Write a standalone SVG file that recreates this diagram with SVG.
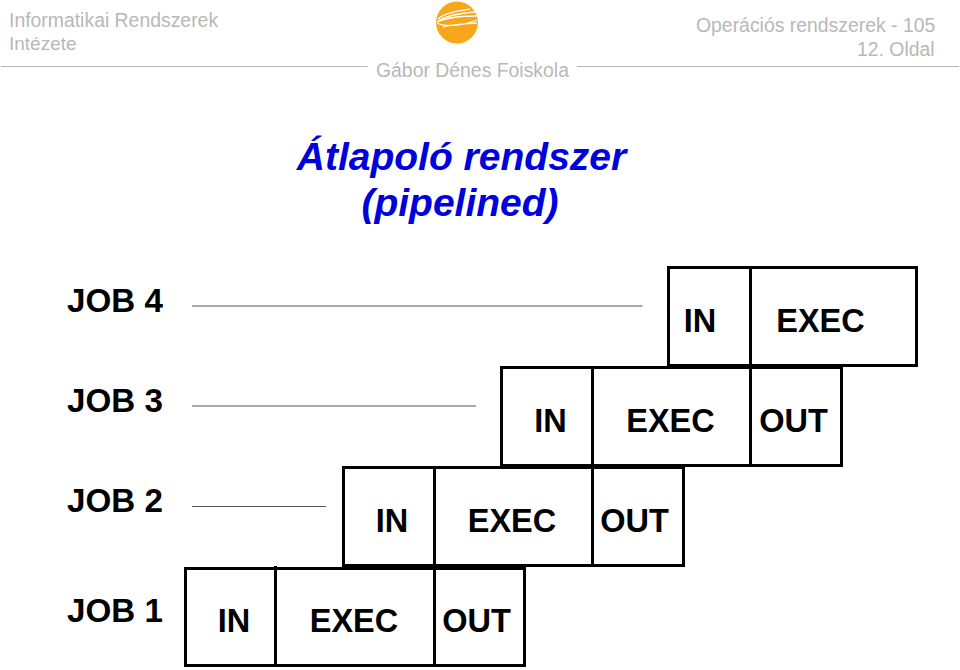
<svg xmlns="http://www.w3.org/2000/svg" width="960" height="670" viewBox="0 0 960 670">
<style>
text{font-family:"Liberation Sans",Arial,sans-serif}
.hd{font-size:19.4px;fill:#b8b8b8}
.rule{stroke:#b8b8b8;stroke-width:1.2;fill:none}
.title{font-size:39px;font-style:italic;font-weight:bold;fill:#0000dc;text-anchor:middle}
.job{font-size:33.200px;font-weight:bold;fill:#000}
.cell{font-size:32.500px;font-weight:bold;fill:#000;text-anchor:middle}
.box{fill:none;stroke:#000;stroke-width:3}
.lead{stroke:#555;stroke-width:1.2;fill:none}
.swoosh{fill:none;stroke:#fff;stroke-width:1.3}
</style>
<rect width="960" height="670" fill="#fff"/>
<g id="header">
<text class="hd" x="9" y="27">Informatikai Rendszerek</text>
<text class="hd" x="9" y="50" font-size="19" style="font-size:19px">Intézete</text>
<text class="hd" x="696" y="32">Operációs rendszerek - 105</text>
<text class="hd" x="857" y="56">12. Oldal</text>
<text class="hd" x="376" y="77">Gábor Dénes Foiskola</text>
<path class="rule" d="M1 66.500H367.500M577 66.500H959"/>
<g id="logo">
<circle cx="457" cy="22.500" r="21" fill="#f9a61a"/>
<path class="swoosh" d="M438 19C444 13 458 11 470 9M437 22C446 15 462 13 475 12M437 22C448 17 464 16 477 16M437 23C444 27 462 26 477 20M443 27C452 24 466 24 477 23"/>
</g>
</g>
<g id="title">
<text class="title" x="461.500" y="170">Átlapoló rendszer</text>
<text class="title" x="460" y="216">(pipelined)</text>
</g>
<g id="connectors">
<path class="lead" d="M192 306H642.500M192 406H476M192 506.500H326"/>
</g>
<g id="job4">
<text class="job" x="67" y="312">JOB 4</text>
<rect class="box" x="668.500" y="267.500" width="248" height="98"/>
<path class="box" d="M750.500 266V367"/>
<text class="cell" x="700" y="332">IN</text>
<text class="cell" x="820.500" y="332">EXEC</text>
</g>
<g id="job3">
<text class="job" x="67" y="412">JOB 3</text>
<rect class="box" x="501.500" y="367.500" width="340" height="98"/>
<path class="box" d="M592.500 366V467M750.500 366V467"/>
<text class="cell" x="550.500" y="432">IN</text>
<text class="cell" x="670.500" y="432">EXEC</text>
<text class="cell" x="793.500" y="432">OUT</text>
</g>
<g id="job2">
<text class="job" x="67" y="512">JOB 2</text>
<rect class="box" x="343.500" y="467.500" width="340" height="98"/>
<path class="box" d="M434.500 466V567M592.500 466V567"/>
<text class="cell" x="392" y="532">IN</text>
<text class="cell" x="512" y="532">EXEC</text>
<text class="cell" x="634.500" y="532">OUT</text>
</g>
<g id="job1">
<text class="job" x="67" y="622">JOB 1</text>
<rect class="box" x="185.500" y="568.500" width="339" height="97"/>
<path class="box" d="M275.500 566V667M434.500 566V667"/>
<text class="cell" x="234" y="632">IN</text>
<text class="cell" x="354" y="632">EXEC</text>
<text class="cell" x="476.500" y="632">OUT</text>
</g>
</svg>
